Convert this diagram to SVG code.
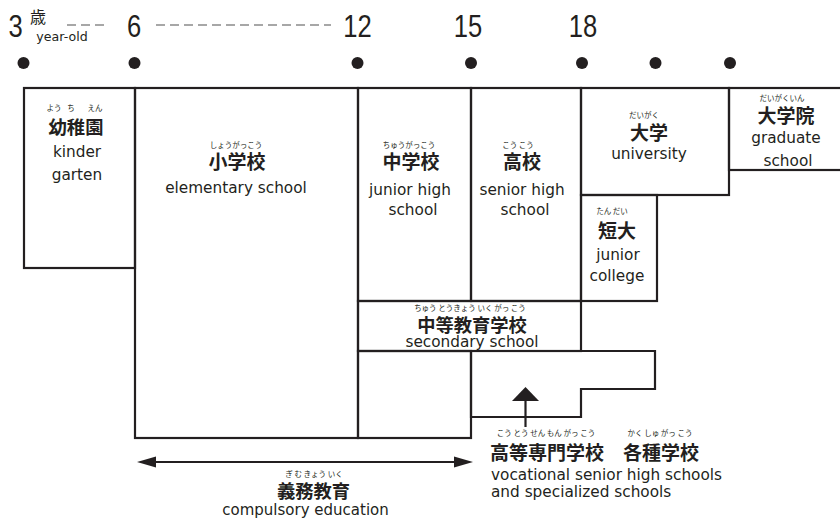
<svg xmlns="http://www.w3.org/2000/svg" width="840" height="522" viewBox="0 0 840 522">
<defs>
<style>
.box{fill:none;stroke:#231f20;stroke-width:2.2;stroke-linejoin:miter}
.num{font-family:"Liberation Sans",Arial,sans-serif;font-size:32px;fill:#231f20;text-anchor:middle}
.jp{font-family:"Noto Sans CJK JP",sans-serif;font-weight:700;font-size:19px;fill:#231f20;text-anchor:middle}
.ru{font-family:"Noto Sans CJK JP",sans-serif;font-size:7.5px;fill:#231f20;text-anchor:middle}
.en{font-family:"DejaVu Sans",sans-serif;font-size:15.3px;fill:#231f20;text-anchor:middle}
.dash{stroke:#8a8a8a;stroke-width:1.5;stroke-dasharray:9 5;fill:none}
.dot{fill:#231f20}
.conn{stroke:#231f20;stroke-width:2.2;fill:none}
.head{fill:#231f20}
</style>
</defs>
<rect width="840" height="522" fill="#fff"/>

<g id="timeline">
<g transform="translate(15.5,37) scale(0.8,1)"><text class="num" x="0" y="0">3</text></g>
<text x="38" y="23" style="font-family:'Noto Sans CJK JP',sans-serif;font-size:16px;fill:#231f20;text-anchor:middle">歳</text>
<text x="62" y="41" style="font-family:'DejaVu Sans',sans-serif;font-size:12.6px;fill:#231f20;text-anchor:middle">year-old</text>
<g transform="translate(134,37) scale(0.8,1)"><text class="num" x="0" y="0">6</text></g>
<g transform="translate(357.5,37) scale(0.8,1)"><text class="num" x="0" y="0">12</text></g>
<g transform="translate(468,37) scale(0.8,1)"><text class="num" x="0" y="0">15</text></g>
<g transform="translate(583,37) scale(0.8,1)"><text class="num" x="0" y="0">18</text></g>
<line class="dash" x1="67" y1="25" x2="107" y2="25"/>
<line class="dash" x1="156" y1="25" x2="331" y2="25"/>
<circle class="dot" cx="23.5" cy="63" r="6"/>
<circle class="dot" cx="134.5" cy="63" r="6"/>
<circle class="dot" cx="357.5" cy="63" r="6"/>
<circle class="dot" cx="471" cy="63" r="6"/>
<circle class="dot" cx="582" cy="63" r="6"/>
<circle class="dot" cx="655.5" cy="63" r="6"/>
<circle class="dot" cx="730" cy="63" r="6"/>
</g>

<g id="kindergarten">
<rect class="box" x="24" y="88" width="111" height="180"/>
<text class="ru" x="54" y="110.5">よう</text>
<text class="ru" x="71" y="110.5">ち</text>
<text class="ru" x="95" y="110.5">えん</text>
<text class="jp" x="76" y="133.5" style="font-size:18.3px">幼稚園</text>
<text class="en" x="77" y="157">kinder</text>
<text class="en" x="77" y="180">garten</text>
</g>

<g id="elementary">
<rect class="box" x="135" y="88" width="223" height="350"/>
<text class="ru" x="236" y="147.5">しょうがっこう</text>
<text class="jp" x="237" y="168.5">小学校</text>
<text class="en" x="236" y="193">elementary school</text>
</g>

<g id="junior-high">
<rect class="box" x="358" y="88" width="113" height="213"/>
<text class="ru" x="409" y="147.5">ちゅうがっこう</text>
<text class="jp" x="411" y="168.5">中学校</text>
<text class="en" x="410" y="195">junior high</text>
<text class="en" x="413" y="215">school</text>
</g>

<g id="senior-high">
<rect class="box" x="471" y="88" width="110" height="213"/>
<text class="ru" x="518" y="147.5">こう こう</text>
<text class="jp" x="522" y="168.5">高校</text>
<text class="en" x="522" y="195">senior high</text>
<text class="en" x="525" y="215">school</text>
</g>

<g id="secondary">
<rect class="box" x="358" y="301" width="223" height="50"/>
<rect class="box" x="358" y="351" width="113" height="87"/>
<text class="ru" x="470" y="310.5">ちゅう とうきょう いく がっ こう</text>
<text class="jp" x="472" y="331.5" style="font-size:18.3px">中等教育学校</text>
<text class="en" x="472" y="346.5">secondary school</text>
</g>

<g id="university">
<rect class="box" x="581" y="88" width="148" height="107"/>
<text class="ru" x="644" y="117.5">だいがく</text>
<text class="jp" x="649" y="139.5">大学</text>
<text class="en" x="649" y="158.5">university</text>
</g>

<g id="junior-college">
<rect class="box" x="581" y="195" width="76" height="106"/>
<text class="ru" x="612" y="214">たん だい</text>
<text class="jp" x="617" y="237.5">短大</text>
<text class="en" x="618" y="260">junior</text>
<text class="en" x="617" y="281">college</text>
</g>

<g id="graduate">
<rect class="box" x="729" y="88" width="113" height="82"/>
<text class="ru" x="782" y="100.5">だいがくいん</text>
<text class="jp" x="786" y="122.5">大学院</text>
<text class="en" x="786" y="143">graduate</text>
<text class="en" x="788" y="166">school</text>
</g>

<g id="vocational">
<path class="box" d="M471,351 H655 V389 H581 V417 H471 Z"/>
<text class="ru" x="546" y="436">こう とう せん もん がっ こう</text>
<text class="ru" x="660" y="436">かく しゅ がっ こう</text>
<text class="jp" x="490" y="459.5" style="text-anchor:start">高等専門学校<tspan x="623">各種学校</tspan></text>
<text class="en" x="491" y="480" style="text-anchor:start">vocational senior high schools</text>
<text class="en" x="491" y="497" style="text-anchor:start">and specialized schools</text>
</g>

<g id="compulsory">
<text class="ru" x="314" y="476.5">ぎ む きょう いく</text>
<text class="jp" x="313.5" y="497.5" style="font-size:18.3px">義務教育</text>
<text class="en" x="305.5" y="515" style="font-size:15px">compulsory education</text>
</g>

<g id="connectors">
<line class="conn" x1="152" y1="462" x2="458" y2="462"/>
<path class="head" d="M137,462 L156,456.5 L156,467.5 Z"/>
<path class="head" d="M473,462 L454,456.5 L454,467.5 Z"/>
<line class="conn" x1="525.5" y1="399" x2="525.5" y2="427"/>
<path class="head" d="M525.5,387 L539,401 L512,401 Z"/>
</g>
</svg>
